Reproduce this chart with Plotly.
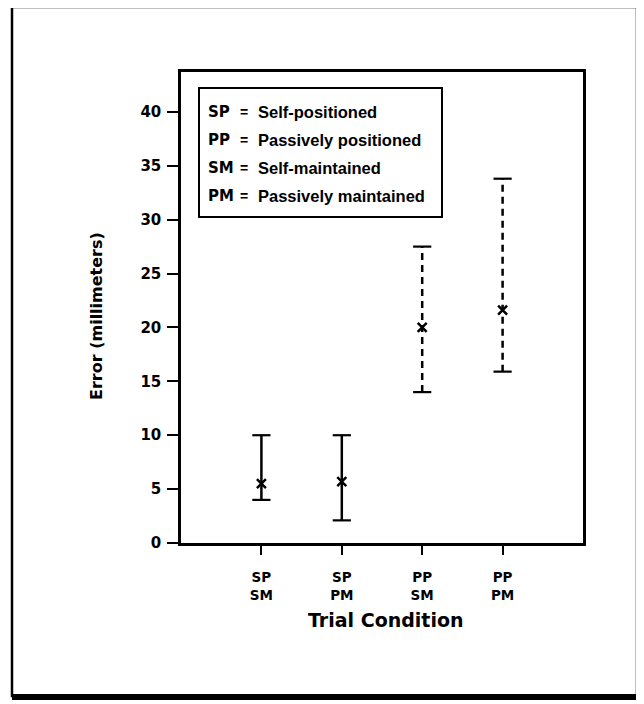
import plotly.graph_objects as go

# ---- data ----
categories = ["SP<br>SM", "SP<br>PM", "PP<br>SM", "PP<br>PM"]
positions = [1, 2, 3, 4]
mean_error = [5.5, 5.7, 20.0, 21.6]
upper_error = [10.0, 10.0, 27.5, 33.8]
lower_error = [4.0, 2.1, 14.0, 15.9]
line_styles = ["solid", "solid", "7px,5px", "7px,5px"]

y_ticks = [0, 5, 10, 15, 20, 25, 30, 35, 40]

legend_abbr = ["SP", "PP", "SM", "PM"]
legend_desc = ["Self-positioned", "Passively positioned", "Self-maintained", "Passively maintained"]

HEAVY = "DejaVu Sans, Liberation Sans, Arial, sans-serif"
TEXT = "Liberation Sans, Arial, sans-serif"

fig = go.Figure()

for xp, lo, hi, ds in zip(positions, lower_error, upper_error, line_styles):
    fig.add_trace(go.Scatter(
        x=[xp, xp], y=[lo, hi], mode="lines+markers",
        line=dict(color="black", width=2.5, dash=ds),
        marker=dict(symbol="line-ew", size=13, color="black",
                    line=dict(color="black", width=2.2)),
        showlegend=False, hoverinfo="skip"))

fig.add_trace(go.Scatter(
    x=positions, y=mean_error, mode="markers",
    marker=dict(symbol="x-thin", size=9, color="black",
                line=dict(color="black", width=2.5)),
    showlegend=False))

# page body has an 8px margin; reference pixel coords are shifted by it
OFF = 8
W, H = 644 - OFF, 704 - OFF
L, R, T, B = 181, 583, 72, 543          # reference pixel coords of plot area
pw, ph = R - L, B - T

def px(x):
    return (x - L) / pw

def py(y):
    return (B - y) / ph

shapes = []
# outer frame
shapes.append(dict(type="rect", xref="paper", yref="paper",
                   x0=px(12), x1=px(637), y0=py(696), y1=py(7),
                   line=dict(color="black", width=2.5)))
shapes.append(dict(type="line", xref="paper", yref="paper",
                   x0=px(12), x1=px(641), y0=py(697), y1=py(697),
                   line=dict(color="black", width=6)))
shapes.append(dict(type="line", xref="paper", yref="paper",
                   x0=px(638.5), x1=px(638.5), y0=py(7), y1=py(699),
                   line=dict(color="black", width=5)))
# legend box
shapes.append(dict(type="rect", xref="paper", yref="paper",
                   x0=px(199), x1=px(442), y0=py(217), y1=py(88),
                   line=dict(color="black", width=2)))

annotations = []
line_y = [112, 140, 168, 196]
for ab, desc, yy in zip(legend_abbr, legend_desc, line_y):
    annotations.append(dict(xref="paper", yref="paper", x=px(206), y=py(yy),
                            text=ab, showarrow=False, xanchor="left", yanchor="middle",
                            font=dict(family=HEAVY, size=15, color="black", weight="bold")))
    annotations.append(dict(xref="paper", yref="paper", x=px(238), y=py(yy),
                            text="=", showarrow=False, xanchor="left", yanchor="middle",
                            font=dict(family=TEXT, size=14, color="black", weight="bold")))
    annotations.append(dict(xref="paper", yref="paper", x=px(256), y=py(yy),
                            text=desc, showarrow=False, xanchor="left", yanchor="middle",
                            font=dict(family=TEXT, size=16.5, color="black", weight="bold")))

# axis titles
annotations.append(dict(xref="paper", yref="paper", x=px(96), y=py(316),
                        text="Error (millimeters)", textangle=-90, showarrow=False,
                        xanchor="center", yanchor="middle",
                        font=dict(family=HEAVY, size=16, color="black", weight="bold")))
annotations.append(dict(xref="paper", yref="paper", x=px(386), y=py(620),
                        text="Trial Condition", showarrow=False,
                        xanchor="center", yanchor="middle",
                        font=dict(family=HEAVY, size=19, color="black", weight="bold")))

fig.update_layout(
    width=W, height=H,
    margin=dict(l=L - OFF, r=W - (R - OFF), t=T - OFF, b=H - (B - OFF)),
    paper_bgcolor="white", plot_bgcolor="white",
    shapes=shapes, annotations=annotations,
    showlegend=False,
)

fig.update_xaxes(range=[0, 5], tickvals=positions, ticktext=categories,
                 showgrid=False, zeroline=False,
                 showline=True, linecolor="black", linewidth=2.5, mirror=True,
                 ticks="outside", ticklen=9, tickwidth=2, tickcolor="black",
                 ticklabelstandoff=11,
                 tickfont=dict(family=HEAVY, size=13.5, color="black", weight="bold"))
fig.update_yaxes(range=[0, 43.7], tickvals=y_ticks,
                 showgrid=False, zeroline=False,
                 showline=True, linecolor="black", linewidth=2.5, mirror=True,
                 ticks="outside", ticklen=11, tickwidth=2, tickcolor="black",
                 ticklabelstandoff=3,
                 tickfont=dict(family=HEAVY, size=15, color="black", weight="bold"))

fig.write_html("out.html")
